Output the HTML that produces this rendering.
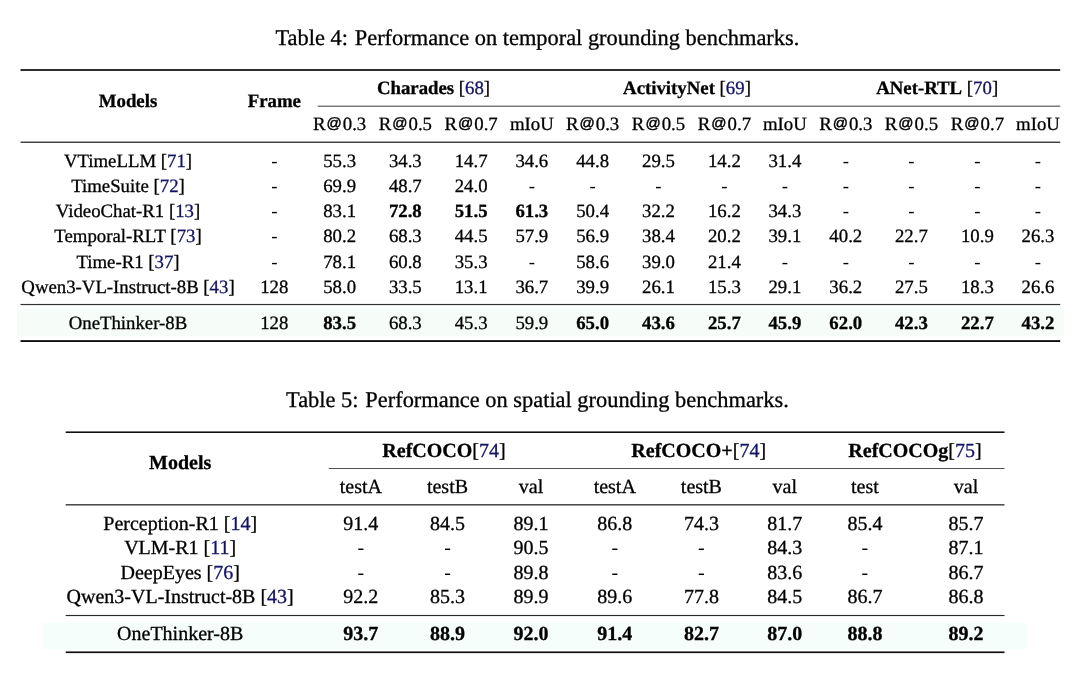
<!DOCTYPE html>
<html lang="en"><head><meta charset="utf-8"><title>Tables 4 and 5</title>
<style>
html,body{margin:0;padding:0;background:#fff;overflow:hidden;}
body{width:1080px;height:688px;position:relative;overflow:hidden;font-family:"Liberation Serif",serif;color:#000;text-rendering:geometricPrecision;}
.x{-webkit-text-stroke:0.3px currentColor;position:absolute;width:1200px;text-align:center;white-space:nowrap;line-height:1;}
.t4{font-size:18.8px;}
.t5{font-size:20.0px;}
.cap{font-size:22.4px;}
.h{-webkit-text-stroke:0;}
.r{position:absolute;}
.hl{position:absolute;}
.c{color:#131364;}
.at{display:inline-block;width:1.1513em;text-align:center;font-family:"Liberation Sans",sans-serif;font-size:80%;position:relative;top:-0.12em;-webkit-text-stroke:0.45px currentColor;}
.sp{display:inline-block;width:1.3px;}
b{font-weight:bold;}
#pg{position:absolute;left:0;top:0;width:1080px;height:688px;overflow:hidden;background:#fff;filter:blur(0.3px);}
</style></head><body><div id="pg">

<div class="x cap" style="left:-62.60px;top:27px">Table 4:<span class="sp"></span> Performance on temporal grounding benchmarks.</div>
<div class="x cap" style="left:-62.60px;top:389px">Table 5:<span class="sp"></span> Performance on spatial grounding benchmarks.</div>
<div class="hl" style="left:17px;top:306px;width:1047px;height:5px;background:linear-gradient(to bottom,#fff,#f6fdf9)"></div>
<div class="hl" style="left:17px;top:311px;width:1047px;height:25px;background:#f6fdf9"></div>
<div class="hl" style="left:17px;top:336px;width:1047px;height:1px;background:#fafefc"></div>
<div class="r" style="left:21px;top:69px;width:1039px;height:1px;background:#2e2e2e;box-shadow:-1px 0 0 #969696,1px 0 0 #d5d5d5"></div>
<div class="r" style="left:21px;top:70px;width:1039px;height:1px;background:#2e2e2e;box-shadow:-1px 0 0 #969696,1px 0 0 #d5d5d5"></div>
<div class="r" style="left:318px;top:105px;width:742px;height:1px;background:#bfbfbf;box-shadow:-1px 0 0 #ececec,1px 0 0 #f2f2f2"></div>
<div class="r" style="left:318px;top:106px;width:742px;height:1px;background:#7a7a7a;box-shadow:-1px 0 0 #d7d7d7,1px 0 0 #e4e4e4"></div>
<div class="r" style="left:21px;top:141px;width:1039px;height:1px;background:#a6a6a6;box-shadow:-1px 0 0 #d2d2d2,1px 0 0 #ededed"></div>
<div class="r" style="left:21px;top:142px;width:1039px;height:1px;background:#424242;box-shadow:-1px 0 0 #a1a1a1,1px 0 0 #d9d9d9"></div>
<div class="r" style="left:21px;top:303px;width:1039px;height:1px;background:#f0f0f0;box-shadow:-1px 0 0 #f7f7f7,1px 0 0 #fcfcfc"></div>
<div class="r" style="left:21px;top:304px;width:1039px;height:1px;background:#333333;box-shadow:-1px 0 0 #999999,1px 0 0 #d6d6d6"></div>
<div class="r" style="left:21px;top:305px;width:1039px;height:1px;background:#e6e6e6;box-shadow:-1px 0 0 #f2f2f2,1px 0 0 #fafafa"></div>
<div class="r" style="left:21px;top:340px;width:1039px;height:1px;background:#333333;box-shadow:-1px 0 0 #999999,1px 0 0 #d6d6d6"></div>
<div class="r" style="left:21px;top:341px;width:1039px;height:1px;background:#0a0a0a;box-shadow:-1px 0 0 #858585,1px 0 0 #cecece"></div>
<div class="x t4" style="left:-472.00px;top:93px"><b>Models</b></div>
<div class="x t4" style="left:-325.70px;top:93px"><b>Frame</b></div>
<div class="x t4" style="left:-166.50px;top:80px"><b>Charades</b> [<span class="c">68</span>]</div>
<div class="x t4" style="left:87.00px;top:80px"><b>ActivityNet</b> [<span class="c">69</span>]</div>
<div class="x t4" style="left:337.20px;top:80px"><b>ANet-RTL</b> [<span class="c">70</span>]</div>
<div class="x t4" style="left:-260.40px;top:116px">R<span class="at">@</span>0.3</div>
<div class="x t4" style="left:-194.70px;top:116px">R<span class="at">@</span>0.5</div>
<div class="x t4" style="left:-128.90px;top:116px">R<span class="at">@</span>0.7</div>
<div class="x t4" style="left:-68.20px;top:116px">mIoU</div>
<div class="x t4" style="left:-7.40px;top:116px">R<span class="at">@</span>0.3</div>
<div class="x t4" style="left:58.50px;top:116px">R<span class="at">@</span>0.5</div>
<div class="x t4" style="left:124.40px;top:116px">R<span class="at">@</span>0.7</div>
<div class="x t4" style="left:184.90px;top:116px">mIoU</div>
<div class="x t4" style="left:245.80px;top:116px">R<span class="at">@</span>0.3</div>
<div class="x t4" style="left:311.40px;top:116px">R<span class="at">@</span>0.5</div>
<div class="x t4" style="left:377.40px;top:116px">R<span class="at">@</span>0.7</div>
<div class="x t4" style="left:438.00px;top:116px">mIoU</div>
<div class="x t4" style="left:-472.00px;top:153px">VTimeLLM [<span class="c">71</span>]</div>
<div class="x t4 h" style="left:-325.70px;top:153px">-</div>
<div class="x t4" style="left:-260.40px;top:153px">55.3</div>
<div class="x t4" style="left:-194.70px;top:153px">34.3</div>
<div class="x t4" style="left:-128.90px;top:153px">14.7</div>
<div class="x t4" style="left:-68.20px;top:153px">34.6</div>
<div class="x t4" style="left:-7.40px;top:153px">44.8</div>
<div class="x t4" style="left:58.50px;top:153px">29.5</div>
<div class="x t4" style="left:124.40px;top:153px">14.2</div>
<div class="x t4" style="left:184.90px;top:153px">31.4</div>
<div class="x t4 h" style="left:245.80px;top:153px">-</div>
<div class="x t4 h" style="left:311.40px;top:153px">-</div>
<div class="x t4 h" style="left:377.40px;top:153px">-</div>
<div class="x t4 h" style="left:438.00px;top:153px">-</div>
<div class="x t4" style="left:-472.00px;top:178px">TimeSuite [<span class="c">72</span>]</div>
<div class="x t4 h" style="left:-325.70px;top:178px">-</div>
<div class="x t4" style="left:-260.40px;top:178px">69.9</div>
<div class="x t4" style="left:-194.70px;top:178px">48.7</div>
<div class="x t4" style="left:-128.90px;top:178px">24.0</div>
<div class="x t4 h" style="left:-68.20px;top:178px">-</div>
<div class="x t4 h" style="left:-7.40px;top:178px">-</div>
<div class="x t4 h" style="left:58.50px;top:178px">-</div>
<div class="x t4 h" style="left:124.40px;top:178px">-</div>
<div class="x t4 h" style="left:184.90px;top:178px">-</div>
<div class="x t4 h" style="left:245.80px;top:178px">-</div>
<div class="x t4 h" style="left:311.40px;top:178px">-</div>
<div class="x t4 h" style="left:377.40px;top:178px">-</div>
<div class="x t4 h" style="left:438.00px;top:178px">-</div>
<div class="x t4" style="left:-472.00px;top:203px">VideoChat-R1 [<span class="c">13</span>]</div>
<div class="x t4 h" style="left:-325.70px;top:203px">-</div>
<div class="x t4" style="left:-260.40px;top:203px">83.1</div>
<div class="x t4" style="left:-194.70px;top:203px"><b>72.8</b></div>
<div class="x t4" style="left:-128.90px;top:203px"><b>51.5</b></div>
<div class="x t4" style="left:-68.20px;top:203px"><b>61.3</b></div>
<div class="x t4" style="left:-7.40px;top:203px">50.4</div>
<div class="x t4" style="left:58.50px;top:203px">32.2</div>
<div class="x t4" style="left:124.40px;top:203px">16.2</div>
<div class="x t4" style="left:184.90px;top:203px">34.3</div>
<div class="x t4 h" style="left:245.80px;top:203px">-</div>
<div class="x t4 h" style="left:311.40px;top:203px">-</div>
<div class="x t4 h" style="left:377.40px;top:203px">-</div>
<div class="x t4 h" style="left:438.00px;top:203px">-</div>
<div class="x t4" style="left:-472.00px;top:228px">Temporal-RLT [<span class="c">73</span>]</div>
<div class="x t4 h" style="left:-325.70px;top:228px">-</div>
<div class="x t4" style="left:-260.40px;top:228px">80.2</div>
<div class="x t4" style="left:-194.70px;top:228px">68.3</div>
<div class="x t4" style="left:-128.90px;top:228px">44.5</div>
<div class="x t4" style="left:-68.20px;top:228px">57.9</div>
<div class="x t4" style="left:-7.40px;top:228px">56.9</div>
<div class="x t4" style="left:58.50px;top:228px">38.4</div>
<div class="x t4" style="left:124.40px;top:228px">20.2</div>
<div class="x t4" style="left:184.90px;top:228px">39.1</div>
<div class="x t4" style="left:245.80px;top:228px">40.2</div>
<div class="x t4" style="left:311.40px;top:228px">22.7</div>
<div class="x t4" style="left:377.40px;top:228px">10.9</div>
<div class="x t4" style="left:438.00px;top:228px">26.3</div>
<div class="x t4" style="left:-472.00px;top:254px">Time-R1 [<span class="c">37</span>]</div>
<div class="x t4 h" style="left:-325.70px;top:254px">-</div>
<div class="x t4" style="left:-260.40px;top:254px">78.1</div>
<div class="x t4" style="left:-194.70px;top:254px">60.8</div>
<div class="x t4" style="left:-128.90px;top:254px">35.3</div>
<div class="x t4 h" style="left:-68.20px;top:254px">-</div>
<div class="x t4" style="left:-7.40px;top:254px">58.6</div>
<div class="x t4" style="left:58.50px;top:254px">39.0</div>
<div class="x t4" style="left:124.40px;top:254px">21.4</div>
<div class="x t4 h" style="left:184.90px;top:254px">-</div>
<div class="x t4 h" style="left:245.80px;top:254px">-</div>
<div class="x t4 h" style="left:311.40px;top:254px">-</div>
<div class="x t4 h" style="left:377.40px;top:254px">-</div>
<div class="x t4 h" style="left:438.00px;top:254px">-</div>
<div class="x t4" style="left:-472.00px;top:279px">Qwen3-VL-Instruct-8B [<span class="c">43</span>]</div>
<div class="x t4" style="left:-325.70px;top:279px">128</div>
<div class="x t4" style="left:-260.40px;top:279px">58.0</div>
<div class="x t4" style="left:-194.70px;top:279px">33.5</div>
<div class="x t4" style="left:-128.90px;top:279px">13.1</div>
<div class="x t4" style="left:-68.20px;top:279px">36.7</div>
<div class="x t4" style="left:-7.40px;top:279px">39.9</div>
<div class="x t4" style="left:58.50px;top:279px">26.1</div>
<div class="x t4" style="left:124.40px;top:279px">15.3</div>
<div class="x t4" style="left:184.90px;top:279px">29.1</div>
<div class="x t4" style="left:245.80px;top:279px">36.2</div>
<div class="x t4" style="left:311.40px;top:279px">27.5</div>
<div class="x t4" style="left:377.40px;top:279px">18.3</div>
<div class="x t4" style="left:438.00px;top:279px">26.6</div>
<div class="x t4" style="left:-472.00px;top:315px">OneThinker-8B</div>
<div class="x t4" style="left:-325.70px;top:315px">128</div>
<div class="x t4" style="left:-260.40px;top:315px"><b>83.5</b></div>
<div class="x t4" style="left:-194.70px;top:315px">68.3</div>
<div class="x t4" style="left:-128.90px;top:315px">45.3</div>
<div class="x t4" style="left:-68.20px;top:315px">59.9</div>
<div class="x t4" style="left:-7.40px;top:315px"><b>65.0</b></div>
<div class="x t4" style="left:58.50px;top:315px"><b>43.6</b></div>
<div class="x t4" style="left:124.40px;top:315px"><b>25.7</b></div>
<div class="x t4" style="left:184.90px;top:315px"><b>45.9</b></div>
<div class="x t4" style="left:245.80px;top:315px"><b>62.0</b></div>
<div class="x t4" style="left:311.40px;top:315px"><b>42.3</b></div>
<div class="x t4" style="left:377.40px;top:315px"><b>22.7</b></div>
<div class="x t4" style="left:438.00px;top:315px"><b>43.2</b></div>
<div class="hl" style="left:43px;top:623px;width:984px;height:26px;background:#f6fefb"></div>
<div class="r" style="left:66px;top:431px;width:938px;height:1px;background:#737373;box-shadow:-1px 0 0 #d5d5d5,1px 0 0 #b9b9b9"></div>
<div class="r" style="left:66px;top:432px;width:938px;height:1px;background:#0f0f0f;box-shadow:-1px 0 0 #b7b7b7,1px 0 0 #878787"></div>
<div class="r" style="left:329px;top:468px;width:675px;height:1px;background:#525252;box-shadow:-1px 0 0 #cbcbcb,1px 0 0 #a8a8a8"></div>
<div class="r" style="left:66px;top:504px;width:938px;height:1px;background:#4d4d4d;box-shadow:-1px 0 0 #c9c9c9,1px 0 0 #a6a6a6"></div>
<div class="r" style="left:66px;top:505px;width:938px;height:1px;background:#999999;box-shadow:-1px 0 0 #e0e0e0,1px 0 0 #cccccc"></div>
<div class="r" style="left:66px;top:614px;width:938px;height:1px;background:#f0f0f0;box-shadow:-1px 0 0 #fafafa,1px 0 0 #f7f7f7"></div>
<div class="r" style="left:66px;top:615px;width:938px;height:1px;background:#292929;box-shadow:-1px 0 0 #bfbfbf,1px 0 0 #949494"></div>
<div class="r" style="left:66px;top:616px;width:938px;height:1px;background:#ebebeb;box-shadow:-1px 0 0 #f9f9f9,1px 0 0 #f5f5f5"></div>
<div class="r" style="left:66px;top:651px;width:938px;height:1px;background:#737373;box-shadow:-1px 0 0 #d5d5d5,1px 0 0 #b9b9b9"></div>
<div class="r" style="left:66px;top:652px;width:938px;height:1px;background:#121212;box-shadow:-1px 0 0 #b8b8b8,1px 0 0 #888888"></div>
<div class="r" style="left:66px;top:653px;width:938px;height:1px;background:#e0e0e0;box-shadow:-1px 0 0 #f6f6f6,1px 0 0 #f0f0f0"></div>
<div class="x t5" style="left:-419.80px;top:453px"><b>Models</b></div>
<div class="x t5" style="left:-156.00px;top:441px"><b>RefCOCO</b>[<span class="c">74</span>]</div>
<div class="x t5" style="left:98.70px;top:441px"><b>RefCOCO+</b>[<span class="c">74</span>]</div>
<div class="x t5" style="left:315.00px;top:441px"><b>RefCOCOg</b>[<span class="c">75</span>]</div>
<div class="x t5" style="left:-239.20px;top:477px">testA</div>
<div class="x t5" style="left:-152.50px;top:477px">testB</div>
<div class="x t5" style="left:-69.00px;top:477px">val</div>
<div class="x t5" style="left:14.75px;top:477px">testA</div>
<div class="x t5" style="left:101.40px;top:477px">testB</div>
<div class="x t5" style="left:184.75px;top:477px">val</div>
<div class="x t5" style="left:264.90px;top:477px">test</div>
<div class="x t5" style="left:366.00px;top:477px">val</div>
<div class="x t5" style="left:-419.80px;top:514px">Perception-R1 [<span class="c">14</span>]</div>
<div class="x t5" style="left:-239.20px;top:514px">91.4</div>
<div class="x t5" style="left:-152.50px;top:514px">84.5</div>
<div class="x t5" style="left:-69.00px;top:514px">89.1</div>
<div class="x t5" style="left:14.75px;top:514px">86.8</div>
<div class="x t5" style="left:101.40px;top:514px">74.3</div>
<div class="x t5" style="left:184.75px;top:514px">81.7</div>
<div class="x t5" style="left:264.90px;top:514px">85.4</div>
<div class="x t5" style="left:366.00px;top:514px">85.7</div>
<div class="x t5" style="left:-419.80px;top:538px">VLM-R1 [<span class="c">11</span>]</div>
<div class="x t5 h" style="left:-239.20px;top:538px">-</div>
<div class="x t5 h" style="left:-152.50px;top:538px">-</div>
<div class="x t5" style="left:-69.00px;top:538px">90.5</div>
<div class="x t5 h" style="left:14.75px;top:538px">-</div>
<div class="x t5 h" style="left:101.40px;top:538px">-</div>
<div class="x t5" style="left:184.75px;top:538px">84.3</div>
<div class="x t5 h" style="left:264.90px;top:538px">-</div>
<div class="x t5" style="left:366.00px;top:538px">87.1</div>
<div class="x t5" style="left:-419.80px;top:563px">DeepEyes [<span class="c">76</span>]</div>
<div class="x t5 h" style="left:-239.20px;top:563px">-</div>
<div class="x t5 h" style="left:-152.50px;top:563px">-</div>
<div class="x t5" style="left:-69.00px;top:563px">89.8</div>
<div class="x t5 h" style="left:14.75px;top:563px">-</div>
<div class="x t5 h" style="left:101.40px;top:563px">-</div>
<div class="x t5" style="left:184.75px;top:563px">83.6</div>
<div class="x t5 h" style="left:264.90px;top:563px">-</div>
<div class="x t5" style="left:366.00px;top:563px">86.7</div>
<div class="x t5" style="left:-419.80px;top:587px">Qwen3-VL-Instruct-8B [<span class="c">43</span>]</div>
<div class="x t5" style="left:-239.20px;top:587px">92.2</div>
<div class="x t5" style="left:-152.50px;top:587px">85.3</div>
<div class="x t5" style="left:-69.00px;top:587px">89.9</div>
<div class="x t5" style="left:14.75px;top:587px">89.6</div>
<div class="x t5" style="left:101.40px;top:587px">77.8</div>
<div class="x t5" style="left:184.75px;top:587px">84.5</div>
<div class="x t5" style="left:264.90px;top:587px">86.7</div>
<div class="x t5" style="left:366.00px;top:587px">86.8</div>
<div class="x t5" style="left:-419.80px;top:624px">OneThinker-8B</div>
<div class="x t5" style="left:-239.20px;top:624px"><b>93.7</b></div>
<div class="x t5" style="left:-152.50px;top:624px"><b>88.9</b></div>
<div class="x t5" style="left:-69.00px;top:624px"><b>92.0</b></div>
<div class="x t5" style="left:14.75px;top:624px"><b>91.4</b></div>
<div class="x t5" style="left:101.40px;top:624px"><b>82.7</b></div>
<div class="x t5" style="left:184.75px;top:624px"><b>87.0</b></div>
<div class="x t5" style="left:264.90px;top:624px"><b>88.8</b></div>
<div class="x t5" style="left:366.00px;top:624px"><b>89.2</b></div>
</div></body></html>
